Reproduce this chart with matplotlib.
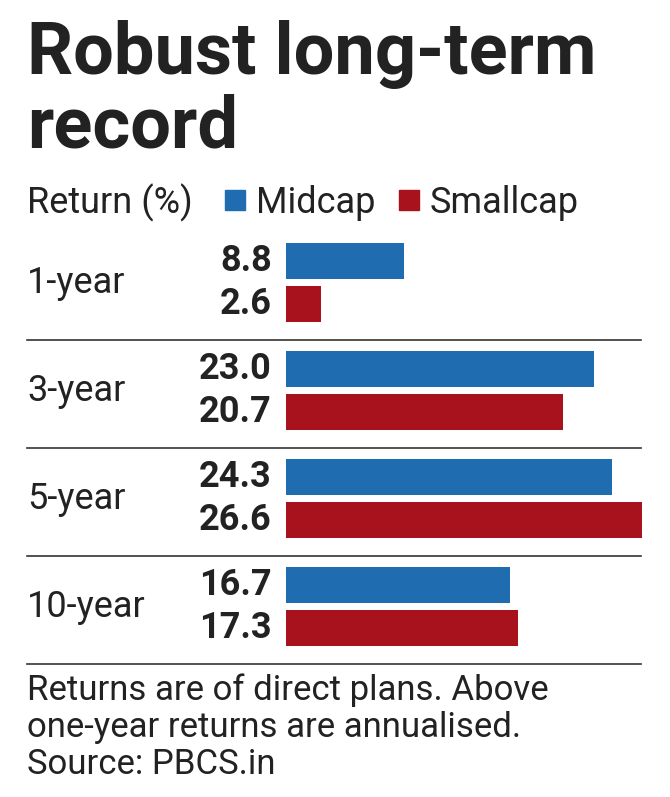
import numpy as np
import matplotlib
matplotlib.use("Agg")
import matplotlib.pyplot as plt

periods = ["1-year", "3-year", "5-year", "10-year"]
midcap = [8.8, 23.0, 24.3, 16.7]
smallcap = [2.6, 20.7, 26.6, 17.3]

blue = "#1f6cb0"
red = "#a8121c"
ink = "#222222"

plt.rcParams["font.family"] = ["Roboto", "DejaVu Sans"]

W, H = 670, 797
fig = plt.figure(figsize=(W / 100, H / 100), dpi=100)

# bar area in pixel terms: 108 px per group, 13.4 px per percent
x0, x1 = 286, 670
ybot = 664
ytop = ybot - 108 * 4.03
ax = fig.add_axes([x0 / W, 1 - ybot / H, (x1 - x0) / W, (ybot - ytop) / H])
ax.set_xlim(0, (x1 - x0) / 13.4)
ax.set_ylim(3.53, -0.5)
ax.axis("off")

pos = np.arange(len(periods))
ax.barh(pos - 0.2, midcap, height=0.335, color=blue)
ax.barh(pos + 0.2, smallcap, height=0.335, color=red)

tr = ax.get_yaxis_transform()
lab_x = (27 - x0) / (x1 - x0)
val_x = (272 - x0) / (x1 - x0)
line_end = (641 - x0) / (x1 - x0)
for i, p in enumerate(periods):
    ax.text(lab_x, pos[i], p, transform=tr, ha="left", va="center",
            fontsize=26, color=ink)
    ax.text(val_x, pos[i] - 0.2, f"{midcap[i]:.1f}", transform=tr,
            ha="right", va="center", fontsize=26, fontweight="bold", color=ink)
    ax.text(val_x, pos[i] + 0.2, f"{smallcap[i]:.1f}", transform=tr,
            ha="right", va="center", fontsize=26, fontweight="bold", color=ink)
    ax.plot([lab_x, line_end], [i + 0.53, i + 0.53], transform=tr,
            color="#333333", lw=1.2, clip_on=False)

# title
fig.text(27 / W, 1 - 74 / H, "Robust long-term", fontsize=52, fontweight="bold",
         color=ink, ha="left", va="baseline")
fig.text(27 / W, 1 - 148 / H, "record", fontsize=52, fontweight="bold",
         color=ink, ha="left", va="baseline")

# legend row
ly = 1 - 213 / H
fig.text(27 / W, ly, "Return (%)", fontsize=26, color=ink, va="baseline")
fig.patches.append(plt.Rectangle((225 / W, 1 - 210 / H), 20 / W, 20 / H,
                                 transform=fig.transFigure, color=blue))
fig.text(256 / W, ly, "Midcap", fontsize=26, color=ink, va="baseline")
fig.patches.append(plt.Rectangle((399 / W, 1 - 210 / H), 20 / W, 20 / H,
                                 transform=fig.transFigure, color=red))
fig.text(430 / W, ly, "Smallcap", fontsize=26, color=ink, va="baseline")

# footnote
notes = ["Returns are of direct plans. Above",
         "one-year returns are annualised.",
         "Source: PBCS.in"]
for k, t in enumerate(notes):
    fig.text(27 / W, 1 - (700 + 37 * k) / H, t, fontsize=25, color=ink,
             va="baseline")

fig.savefig("out.png", dpi=100, facecolor="white")
